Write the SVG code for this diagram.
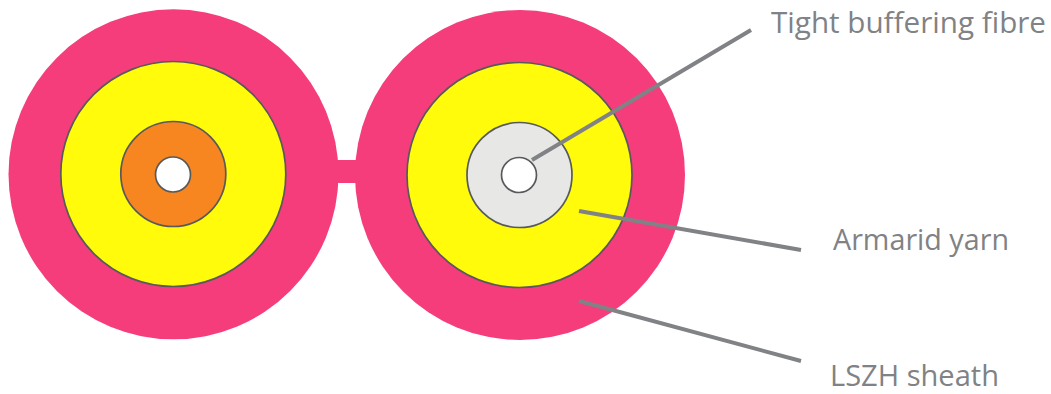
<svg xmlns="http://www.w3.org/2000/svg" width="1051" height="394" viewBox="0 0 1051 394">
<style>
.sheath{fill:#f53d7c}
.ring{stroke:#58595b;stroke-width:1.7}
.yarn{fill:#fffb0a}
.fibre{fill:#fff}
.lead{stroke:#808285;stroke-width:4;fill:none}
text{font-family:"Open Sans","Noto Sans","Liberation Sans",sans-serif;font-size:30px;fill:#808285}
</style>
<rect width="1051" height="394" fill="#fff"/>
<g id="bridge"><rect class="sheath" x="330" y="160" width="32" height="23"/></g>
<g id="cable-left">
<circle class="sheath" cx="173.5" cy="174.3" r="165"/>
<circle class="yarn ring" cx="173.3" cy="174" r="112.5"/>
<circle class="ring" fill="#f78620" cx="173.3" cy="174" r="52.5"/>
<circle class="fibre ring" cx="173" cy="174.5" r="17.5"/>
</g>
<g id="cable-right">
<circle class="sheath" cx="520" cy="175" r="165"/>
<circle class="yarn ring" cx="519.5" cy="175" r="112.5"/>
<circle class="ring" fill="#e7e8e6" cx="519.5" cy="175" r="52.5"/>
<circle class="fibre ring" cx="519" cy="175" r="17.5"/>
</g>
<g id="connectors">
<line class="lead" x1="532" y1="160" x2="751" y2="30"/>
<line class="lead" x1="579" y1="211" x2="801" y2="250"/>
<line class="lead" x1="579" y1="301" x2="801" y2="361"/>
</g>
<g id="label-fibre"><text x="771" y="32.5" textLength="275" lengthAdjust="spacingAndGlyphs">Tight buffering fibre</text></g>
<g id="label-yarn"><text x="833" y="250" textLength="176" lengthAdjust="spacingAndGlyphs">Armarid yarn</text></g>
<g id="label-sheath"><text x="830" y="386" textLength="169" lengthAdjust="spacingAndGlyphs">LSZH sheath</text></g>
</svg>
